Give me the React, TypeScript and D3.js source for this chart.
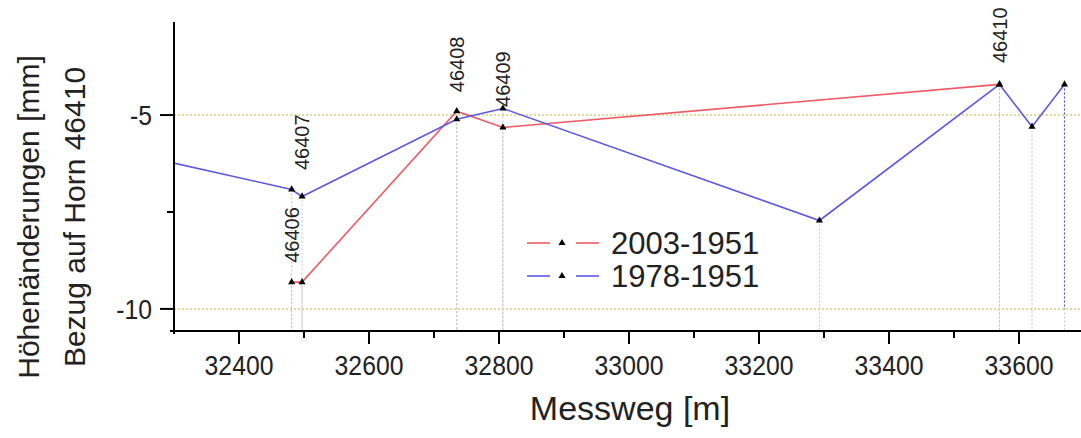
import React from "react";
import * as d3 from "d3";

const seriesNames = ["2003-1951", "1978-1951"];
const seriesColors = ["#f05a64", "#5a5ae0"];

const redX = [32481, 32497, 32735, 32806, 33570];
const redY = [-9.31, -9.31, -4.9, -5.32, -4.21];

const blueX = [32250, 32481, 32497, 32735, 32806, 33293, 33570, 33620, 33670];
const blueY = [-6.05, -6.92, -7.1, -5.11, -4.83, -7.72, -4.21, -5.3, -4.21];

const blueTailX = [33670, 33670];
const blueTailY = [-4.21, -10];

const pointLabels = ["46406", "46407", "46408", "46409", "46410"];
const pointLabelX = [32481, 32497, 32735, 32806, 33570];
const pointLabelY = [-8.81, -6.42, -4.41, -4.79, -3.66];

const xTicks = [32400, 32600, 32800, 33000, 33200, 33400, 33600];
const xMinorTicks = [32300, 32500, 32700, 32900, 33100, 33300, 33500, 33700];
const yTicks = [-5, -10];
const yMinorTicks = [-7.5];
const gridY = [-5, -10];

const W = 1081;
const H = 438;
const FONT = "'Liberation Sans', Arial, Helvetica, sans-serif";

export default function App() {
  const x = d3.scaleLinear().domain([32300, 33700]).range([174, 1084]);
  const y = d3.scaleLinear().domain([-10.57, -2.6]).range([331, 22]);
  const x0 = x.range()[0];
  const y0 = y.range()[0];
  const yTop = y.range()[1];

  const line = d3
    .line<[number, number]>()
    .x((d) => x(d[0]))
    .y((d) => y(d[1]));

  const red: [number, number][] = redX.map((v, i) => [v, redY[i]]);
  const blue: [number, number][] = blueX.map((v, i) => [v, blueY[i]]);
  const tail: [number, number][] = blueTailX.map((v, i) => [v, blueTailY[i]]);
  const series = [red, blue];

  const tri = d3.symbol().type(d3.symbolTriangle).size(22)() as string;

  const inDomain = (v: number) => v > 32300 && v < 33700;

  return (
    <svg
      width={W}
      height={H}
      style={{ position: "absolute", left: 0, top: 0, display: "block", background: "#fff" }}
      fontFamily={FONT}
    >
      <defs>
        <clipPath id="plotclip">
          <rect x={x0} y={0} width={W - x0} height={y0} />
        </clipPath>
      </defs>

      {/* horizontal dotted grid lines */}
      {gridY.map((g) => (
        <line
          key={"g" + g}
          x1={x0}
          x2={W}
          y1={y(g)}
          y2={y(g)}
          stroke="#cfcf80"
          strokeWidth={1.5}
          strokeDasharray="2,2"
        />
      ))}

      {/* drop lines, series, markers */}
      <g clipPath="url(#plotclip)">
        {series.map((s, si) =>
          s
            .filter((d) => inDomain(d[0]))
            .map((d, i) => (
              <line
                key={"d" + si + "_" + i}
                x1={x(d[0])}
                x2={x(d[0])}
                y1={y(d[1])}
                y2={y0}
                stroke="#c4c4c4"
                strokeWidth={1}
                strokeDasharray="2,2"
              />
            ))
        )}
        <path
          d={line(tail) as string}
          fill="none"
          stroke={seriesColors[1]}
          strokeWidth={1.2}
          strokeDasharray="2,2"
        />
        {series.map((s, si) => (
          <path
            key={"s" + si}
            d={line(s) as string}
            fill="none"
            stroke={seriesColors[si]}
            strokeWidth={1.6}
          />
        ))}
        {series.map((s, si) =>
          s
            .filter((d) => inDomain(d[0]))
            .map((d, i) => (
              <path
                key={"m" + si + "_" + i}
                d={tri}
                transform={`translate(${x(d[0])},${y(d[1])})`}
                fill="#000"
              />
            ))
        )}
      </g>

      {/* point labels */}
      {pointLabels.map((t, i) => (
        <text
          key={"pl" + t}
          transform={`translate(${x(pointLabelX[i])},${y(pointLabelY[i])}) rotate(-90)`}
          fontSize={20}
          dy="0.35em"
          textAnchor="start"
          fill="#222"
        >
          {t}
        </text>
      ))}

      {/* axes */}
      <line x1={x0 - 4} x2={W} y1={y0} y2={y0} stroke="#000" strokeWidth={2} />
      <line x1={x0} x2={x0} y1={yTop} y2={y0 + 3} stroke="#000" strokeWidth={2} />

      {xTicks.map((t) => (
        <g key={"xt" + t}>
          <line x1={x(t)} x2={x(t)} y1={y0} y2={y0 + 13} stroke="#000" strokeWidth={2} />
          <text
            transform={`translate(${x(t)},${y0 + 44}) scale(0.9,1)`}
            fontSize={27.5}
            textAnchor="middle"
            fill="#222"
          >
            {t}
          </text>
        </g>
      ))}
      {xMinorTicks
        .filter((t) => x(t) < W && t !== 32300)
        .map((t) => (
          <line key={"xm" + t} x1={x(t)} x2={x(t)} y1={y0} y2={y0 + 7} stroke="#000" strokeWidth={2} />
        ))}

      {yTicks.map((t) => (
        <g key={"yt" + t}>
          <line x1={x0 - 14} x2={x0} y1={y(t)} y2={y(t)} stroke="#000" strokeWidth={2} />
          <text
            transform={`translate(${x0 - 22},${y(t)}) scale(0.9,1)`}
            dy="0.35em"
            fontSize={27.5}
            textAnchor="end"
            fill="#222"
          >
            {t}
          </text>
        </g>
      ))}
      {yMinorTicks.map((t) => (
        <line key={"ym" + t} x1={x0 - 7} x2={x0} y1={y(t)} y2={y(t)} stroke="#000" strokeWidth={2} />
      ))}

      {/* axis titles */}
      <text x={630} y={420} fontSize={34} textAnchor="middle" fill="#222">
        Messweg [m]
      </text>
      <text
        transform={`translate(39,217) rotate(-90)`}
        fontSize={30}
        textAnchor="middle"
        fill="#222"
      >
        Höhenänderungen [mm]
      </text>
      <text
        transform={`translate(85,217) rotate(-90)`}
        fontSize={30}
        textAnchor="middle"
        fill="#222"
      >
        Bezug auf Horn 46410
      </text>

      {/* legend */}
      {seriesNames.map((n, i) => {
        const ly = 243 + i * 33;
        return (
          <g key={"lg" + n}>
            <line x1={527} x2={550} y1={ly} y2={ly} stroke={seriesColors[i]} strokeWidth={1.6} />
            <line x1={576} x2={599} y1={ly} y2={ly} stroke={seriesColors[i]} strokeWidth={1.6} />
            <path d={tri} transform={`translate(562,${ly})`} fill="#000" />
            <text x={611} y={ly} dy="0.35em" fontSize={31} fill="#222">
              {n}
            </text>
          </g>
        );
      })}
    </svg>
  );
}
